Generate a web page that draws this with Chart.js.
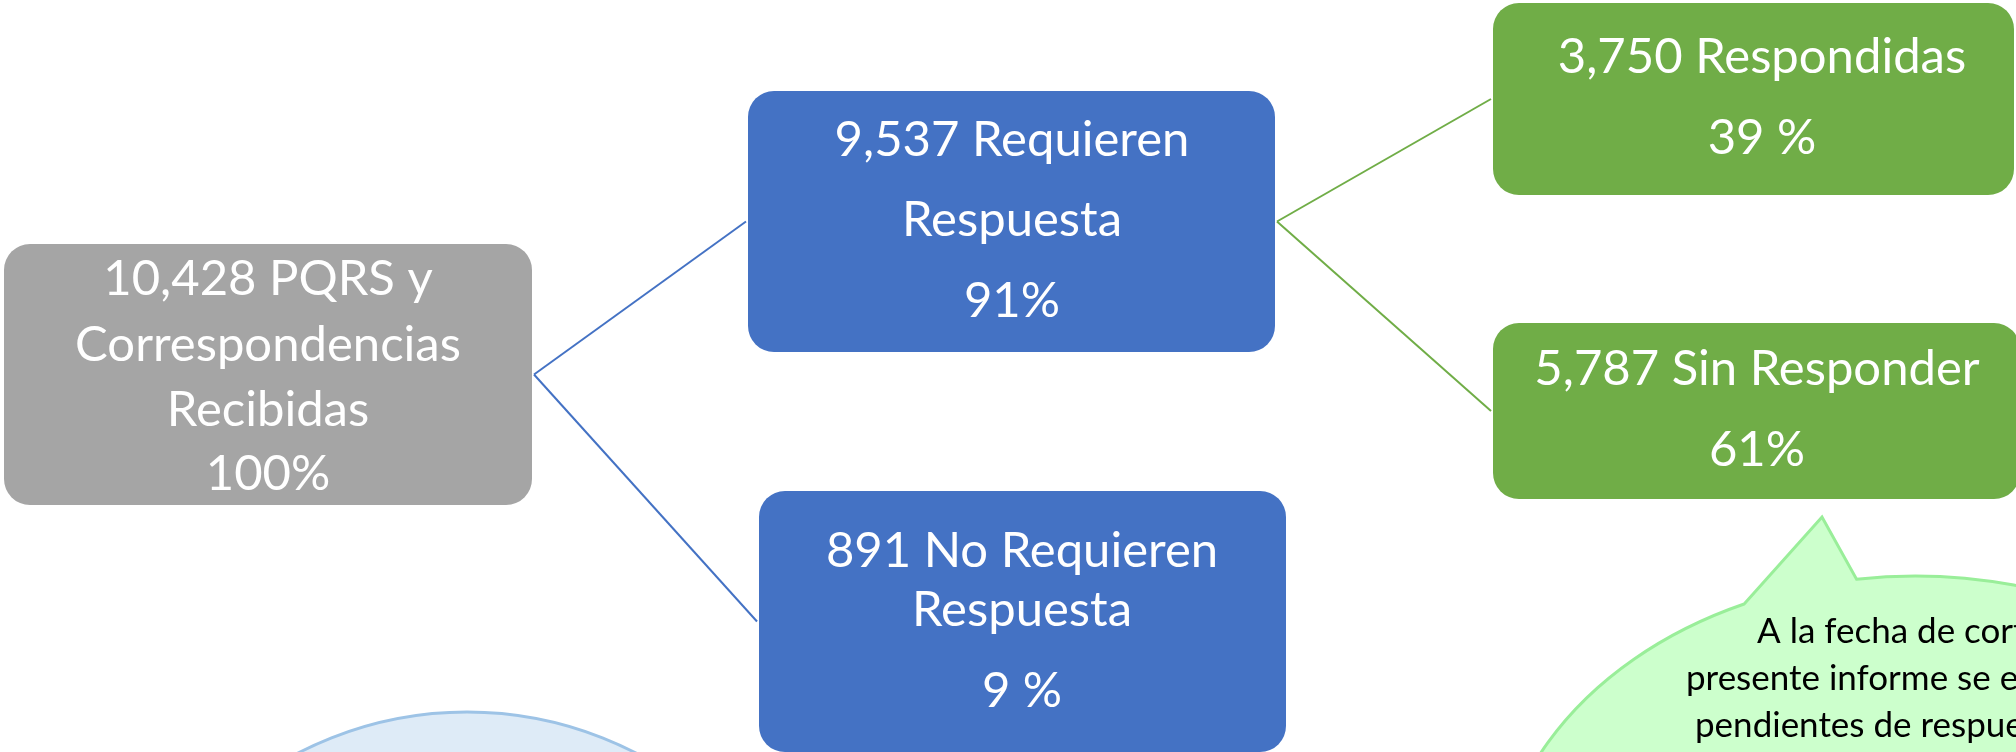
<!DOCTYPE html>
<html>
<head>
<meta charset="utf-8">
<title>PQRS y Correspondencias</title>
<script src="https://cdn.jsdelivr.net/npm/chart.js@4.4.1/dist/chart.umd.min.js"></script>
<style>
  html, body { margin: 0; padding: 0; background: #ffffff; overflow: hidden; }
  #wrap { position: relative; width: 2016px; height: 752px; }
</style>
</head>
<body>
<div id="wrap"><canvas id="chart"></canvas></div>
<script>
// ---- data ----
const nodeCounts = [10428, 9537, 891, 3750, 5787];
const nodeLabels = ['PQRS y|Correspondencias|Recibidas', 'Requieren|Respuesta', 'No Requieren|Respuesta', 'Respondidas', 'Sin Responder'];
const nodePercents = ['100%', '91%', '9 %', '39 %', '61%'];
const nodeParents = [-1, 0, 0, 1, 1];
const noteLines = ['A la fecha de corte del', 'presente informe se encuentran', 'pendientes de respuesta'];

// ---- layout (units of the 2016 x 752 sheet) ----
const boxes = [
  {x0: 4, y0: 244, x1: 532, y1: 505, tx: 268, base: [295, 361, 426, 490]},
  {x0: 748, y0: 91, x1: 1275, y1: 352, tx: 1012, base: [156, 236, 317]},
  {x0: 759, y0: 491, x1: 1286, y1: 752, tx: 1022, base: [567, 626, 707]},
  {x0: 1493, y0: 3, x1: 2014, y1: 195, tx: 1762, base: [73, 154]},
  {x0: 1493, y0: 323, x1: 2020, y1: 499, tx: 1757, base: [385, 466]}
];
const boxColors = ['#a5a5a5', '#4472c4', '#4472c4', '#70ad47', '#70ad47'];
const circle = {cx: 467, cy: 1080, r: 368};
const bubble = {cx: 1915, cy: 900, rx: 420, ry: 324, tip: [1822, 517], aRight: 262, aLeft: 246};
const noteX = [1757, 1686, 1695];
const noteBase = [643, 690, 737];
const boxFont = '49px Lato';
const noteFont = '35px Lato';

function nodeText(i)
{
  let parts = nodeLabels[i].split('|');
  parts[0] = nodeCounts[i].toLocaleString('en-US') + ' ' + parts[0];
  parts.push(nodePercents[i]);
  return parts;
}

// connectors: parent right-middle -> child left-middle
const links = [];
for (let i = 0; i < nodeParents.length; i++)
{
  if (nodeParents[i] >= 0)
  {
    let p = boxes[nodeParents[i]];
    let b = boxes[i];
    links.push({
      data: [{x: p.x1 + 2, y: (p.y0 + p.y1) / 2}, {x: b.x0 - 2, y: (b.y0 + b.y1) / 2}],
      showLine: true,
      borderColor: boxColors[i],
      borderWidth: 2,
      pointRadius: 0,
      tension: 0
    });
  }
}

const diagram = {
  id: 'diagram',
  beforeDatasetsDraw(chart)
  {
    const ctx = chart.ctx;
    const X = (v) => chart.scales.x.getPixelForValue(v);
    const Y = (v) => chart.scales.y.getPixelForValue(v);
    ctx.save();

    // light blue circle (bottom left)
    ctx.beginPath();
    ctx.arc(X(circle.cx), Y(circle.cy), X(circle.r) - X(0), 0, Math.PI * 2);
    ctx.fillStyle = '#deebf7';
    ctx.fill();
    ctx.lineWidth = 3;
    ctx.strokeStyle = '#9dc3e6';
    ctx.stroke();

    // speech bubble
    const rad = Math.PI / 180;
    const rx = X(bubble.rx) - X(0);
    const ry = Y(bubble.ry) - Y(0);
    ctx.beginPath();
    ctx.ellipse(X(bubble.cx), Y(bubble.cy), rx, ry, 0, bubble.aRight * rad, (bubble.aLeft + 360) * rad);
    ctx.lineTo(X(bubble.tip[0]), Y(bubble.tip[1]));
    ctx.closePath();
    ctx.fillStyle = '#ccffcc';
    ctx.fill();
    ctx.lineWidth = 3;
    ctx.strokeStyle = '#99ee99';
    ctx.lineJoin = 'miter';
    ctx.stroke();

    ctx.fillStyle = '#000000';
    ctx.font = noteFont;
    ctx.textAlign = 'left';
    ctx.textBaseline = 'alphabetic';
    for (let i = 0; i < noteLines.length; i++)
    {
      ctx.fillText(noteLines[i], X(noteX[i]), Y(noteBase[i]));
    }

    // boxes
    for (let i = 0; i < boxes.length; i++)
    {
      let b = boxes[i];
      ctx.beginPath();
      ctx.roundRect(X(b.x0), Y(b.y0), X(b.x1) - X(b.x0), Y(b.y1) - Y(b.y0), 26);
      ctx.fillStyle = boxColors[i];
      ctx.fill();
      ctx.fillStyle = '#ffffff';
      ctx.font = boxFont;
      ctx.textAlign = 'center';
      let lines = nodeText(i);
      for (let j = 0; j < lines.length; j++)
      {
        ctx.fillText(lines[j], X(b.tx), Y(b.base[j]));
      }
    }
    ctx.restore();
  }
};

new Chart(document.getElementById('chart'), {
  type: 'scatter',
  data: {datasets: links},
  options: {
    responsive: true,
    maintainAspectRatio: false,
    devicePixelRatio: 1,
    animation: false,
    layout: {padding: 0},
    scales: {
      x: {type: 'linear', min: 0, max: 2016, display: false},
      y: {type: 'linear', min: 0, max: 752, reverse: true, display: false}
    },
    plugins: {legend: {display: false}, tooltip: {enabled: false}}
  },
  plugins: [diagram]
});
</script>
</body>
</html>
